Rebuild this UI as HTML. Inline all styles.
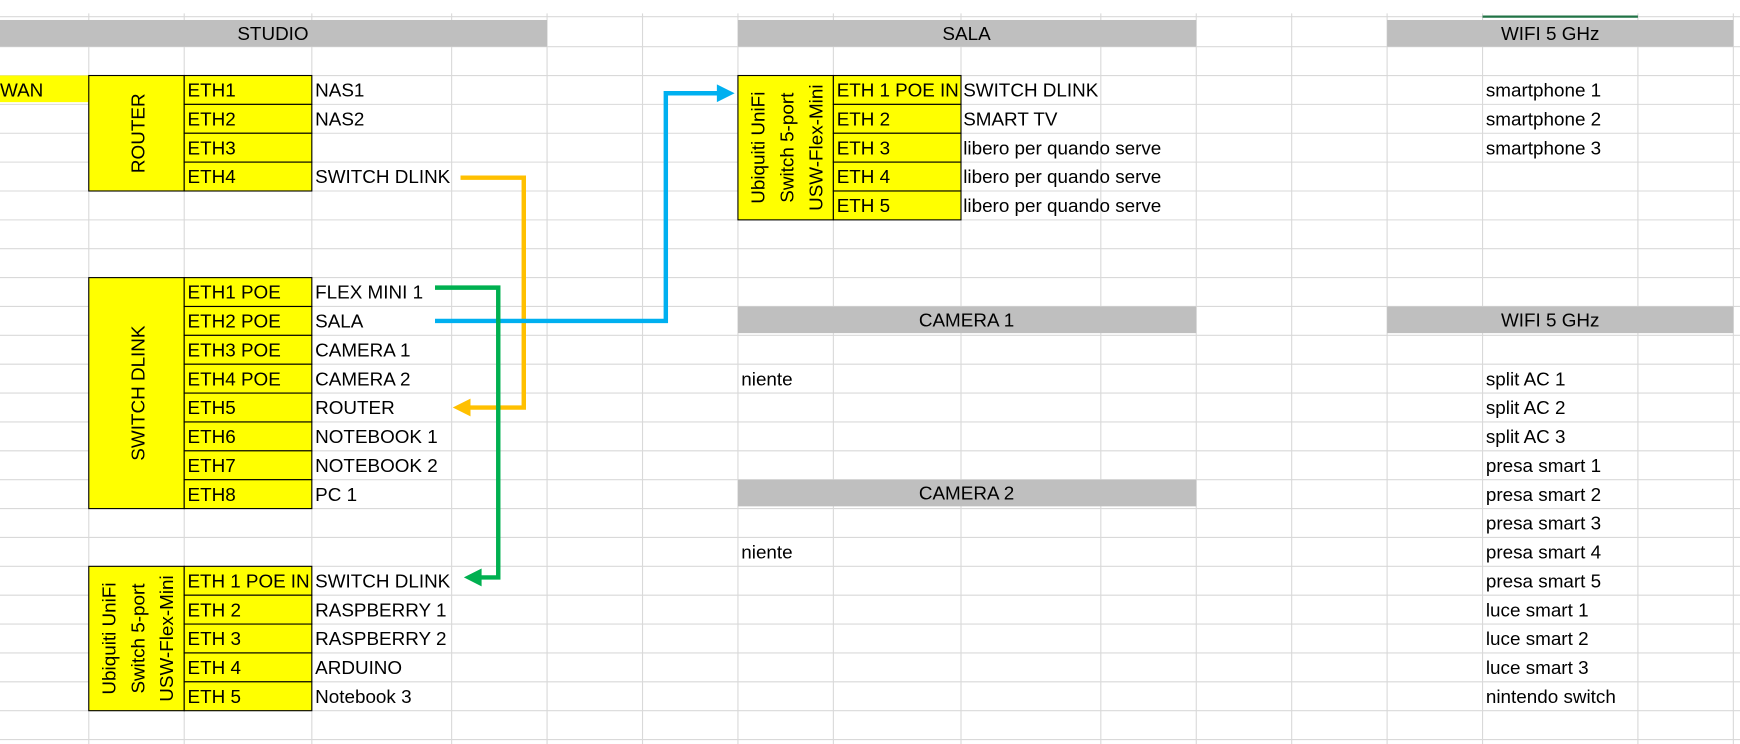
<!DOCTYPE html>
<html><head><meta charset="utf-8"><style>
html,body{margin:0;padding:0;background:#fff;overflow:hidden}
svg{display:block}
text{font-family:"Liberation Sans",sans-serif;font-size:17px;fill:#000}
</style></head><body>
<svg width="1740" height="744" viewBox="0 0 1568 670" preserveAspectRatio="none" xmlns="http://www.w3.org/2000/svg">
<rect width="1568" height="670" fill="#fff"/>
<g stroke="#d9d9d9" stroke-width="1">
<line x1="0" y1="15" x2="1568" y2="15"/>
<line x1="0" y1="42" x2="1568" y2="42"/><line x1="0" y1="68" x2="1568" y2="68"/><line x1="0" y1="94" x2="1568" y2="94"/><line x1="0" y1="120" x2="1568" y2="120"/><line x1="0" y1="146" x2="1568" y2="146"/><line x1="0" y1="172" x2="1568" y2="172"/><line x1="0" y1="198" x2="1568" y2="198"/><line x1="0" y1="224" x2="1568" y2="224"/><line x1="0" y1="250" x2="1568" y2="250"/><line x1="0" y1="276" x2="1568" y2="276"/><line x1="0" y1="302" x2="1568" y2="302"/><line x1="0" y1="328" x2="1568" y2="328"/><line x1="0" y1="354" x2="1568" y2="354"/><line x1="0" y1="380" x2="1568" y2="380"/><line x1="0" y1="406" x2="1568" y2="406"/><line x1="0" y1="432" x2="1568" y2="432"/><line x1="0" y1="458" x2="1568" y2="458"/><line x1="0" y1="484" x2="1568" y2="484"/><line x1="0" y1="510" x2="1568" y2="510"/><line x1="0" y1="536" x2="1568" y2="536"/><line x1="0" y1="562" x2="1568" y2="562"/><line x1="0" y1="588" x2="1568" y2="588"/><line x1="0" y1="614" x2="1568" y2="614"/><line x1="0" y1="640" x2="1568" y2="640"/><line x1="0" y1="666" x2="1568" y2="666"/>
<line x1="80" y1="12" x2="80" y2="670"/><line x1="166" y1="12" x2="166" y2="670"/><line x1="281" y1="12" x2="281" y2="670"/><line x1="407" y1="12" x2="407" y2="670"/><line x1="493" y1="12" x2="493" y2="670"/><line x1="579" y1="12" x2="579" y2="670"/><line x1="665" y1="12" x2="665" y2="670"/><line x1="751" y1="12" x2="751" y2="670"/><line x1="866" y1="12" x2="866" y2="670"/><line x1="992" y1="12" x2="992" y2="670"/><line x1="1078" y1="12" x2="1078" y2="670"/><line x1="1164" y1="12" x2="1164" y2="670"/><line x1="1250" y1="12" x2="1250" y2="670"/><line x1="1336" y1="12" x2="1336" y2="670"/><line x1="1476" y1="12" x2="1476" y2="670"/><line x1="1562" y1="12" x2="1562" y2="670"/>
</g>
<line x1="1336" y1="15" x2="1476" y2="15" stroke="#217346" stroke-width="2"/>
<g fill="#bfbfbf">
<rect x="0" y="18" width="493" height="24"/>
<rect x="665" y="18" width="413" height="24"/>
<rect x="1250" y="18" width="312" height="24"/>
<rect x="665" y="276" width="413" height="24"/>
<rect x="665" y="432" width="413" height="24"/>
<rect x="1250" y="276" width="312" height="24"/>
</g>
<text x="246" y="36" text-anchor="middle">STUDIO</text>
<text x="871" y="36" text-anchor="middle">SALA</text>
<text x="1397" y="36" text-anchor="middle">WIFI 5 GHz</text>
<text x="871" y="294" text-anchor="middle">CAMERA 1</text>
<text x="871" y="450" text-anchor="middle">CAMERA 2</text>
<text x="1397" y="294" text-anchor="middle">WIFI 5 GHz</text>
<rect x="0" y="68" width="80" height="24" fill="#ffff00"/>
<text x="0" y="87">WAN</text>
<g fill="#ffff00" stroke="#000" stroke-width="1">
<rect x="80" y="68" width="86" height="104"/>
<rect x="166" y="68" width="115" height="26"/><rect x="166" y="94" width="115" height="26"/><rect x="166" y="120" width="115" height="26"/><rect x="166" y="146" width="115" height="26"/>
<rect x="80" y="250" width="86" height="208"/>
<rect x="166" y="250" width="115" height="26"/><rect x="166" y="276" width="115" height="26"/><rect x="166" y="302" width="115" height="26"/><rect x="166" y="328" width="115" height="26"/><rect x="166" y="354" width="115" height="26"/><rect x="166" y="380" width="115" height="26"/><rect x="166" y="406" width="115" height="26"/><rect x="166" y="432" width="115" height="26"/>
<rect x="80" y="510" width="86" height="130"/>
<rect x="166" y="510" width="115" height="26"/><rect x="166" y="536" width="115" height="26"/><rect x="166" y="562" width="115" height="26"/><rect x="166" y="588" width="115" height="26"/><rect x="166" y="614" width="115" height="26"/>
<rect x="665" y="68" width="86" height="130"/>
<rect x="751" y="68" width="115" height="26"/><rect x="751" y="94" width="115" height="26"/><rect x="751" y="120" width="115" height="26"/><rect x="751" y="146" width="115" height="26"/><rect x="751" y="172" width="115" height="26"/>
</g>
<text transform="translate(130,120) rotate(-90)" text-anchor="middle">ROUTER</text>
<text transform="translate(130,354) rotate(-90)" text-anchor="middle">SWITCH DLINK</text>
<g text-anchor="middle">
<text transform="translate(104,575) rotate(-90)">Ubiquiti UniFi</text>
<text transform="translate(130,575) rotate(-90)">Switch 5-port</text>
<text transform="translate(156,575) rotate(-90)">USW-Flex-Mini</text>
<text transform="translate(689,133) rotate(-90)">Ubiquiti UniFi</text>
<text transform="translate(715,133) rotate(-90)">Switch 5-port</text>
<text transform="translate(741,133) rotate(-90)">USW-Flex-Mini</text>
</g>
<g>
<text x="169" y="87">ETH1</text><text x="169" y="113">ETH2</text><text x="169" y="139">ETH3</text><text x="169" y="165">ETH4</text>
<text x="284" y="87">NAS1</text><text x="284" y="113">NAS2</text><text x="284" y="165">SWITCH DLINK</text>
<text x="169" y="269">ETH1 POE</text><text x="169" y="295">ETH2 POE</text><text x="169" y="321">ETH3 POE</text><text x="169" y="347">ETH4 POE</text><text x="169" y="373">ETH5</text><text x="169" y="399">ETH6</text><text x="169" y="425">ETH7</text><text x="169" y="451">ETH8</text>
<text x="284" y="269">FLEX MINI 1</text><text x="284" y="295">SALA</text><text x="284" y="321">CAMERA 1</text><text x="284" y="347">CAMERA 2</text><text x="284" y="373">ROUTER</text><text x="284" y="399">NOTEBOOK 1</text><text x="284" y="425">NOTEBOOK 2</text><text x="284" y="451">PC 1</text>
<text x="169" y="529" textLength="110">ETH 1 POE IN</text><text x="169" y="555">ETH 2</text><text x="169" y="581">ETH 3</text><text x="169" y="607">ETH 4</text><text x="169" y="633">ETH 5</text>
<text x="284" y="529">SWITCH DLINK</text><text x="284" y="555">RASPBERRY 1</text><text x="284" y="581">RASPBERRY 2</text><text x="284" y="607">ARDUINO</text><text x="284" y="633">Notebook 3</text>
<text x="754" y="87" textLength="110">ETH 1 POE IN</text><text x="754" y="113">ETH 2</text><text x="754" y="139">ETH 3</text><text x="754" y="165">ETH 4</text><text x="754" y="191">ETH 5</text>
<text x="868" y="87">SWITCH DLINK</text><text x="868" y="113">SMART TV</text><text x="868" y="139">libero per quando serve</text><text x="868" y="165">libero per quando serve</text><text x="868" y="191">libero per quando serve</text>
<text x="668" y="347">niente</text><text x="668" y="503">niente</text>
<text x="1339" y="87">smartphone 1</text><text x="1339" y="113">smartphone 2</text><text x="1339" y="139">smartphone 3</text>
<text x="1339" y="347">split AC 1</text><text x="1339" y="373">split AC 2</text><text x="1339" y="399">split AC 3</text><text x="1339" y="425">presa smart 1</text><text x="1339" y="451">presa smart 2</text><text x="1339" y="477">presa smart 3</text><text x="1339" y="503">presa smart 4</text><text x="1339" y="529">presa smart 5</text><text x="1339" y="555">luce smart 1</text><text x="1339" y="581">luce smart 2</text><text x="1339" y="607">luce smart 3</text><text x="1339" y="633">nintendo switch</text>
</g>
<g fill="none" stroke-width="4" stroke-linejoin="miter">
<polyline points="415,160 472,160 472,367 422,367" stroke="#ffc000"/>
<polyline points="392,289 600,289 600,84 650,84" stroke="#00b0f0"/>
<polyline points="392,259 449,259 449,520 432,520" stroke="#00b050"/>
</g>
<polygon points="408,367 424,359 424,375" fill="#ffc000"/>
<polygon points="662,84 646,76 646,92" fill="#00b0f0"/>
<polygon points="418,520 434,512 434,528" fill="#00b050"/>
</svg>
</body></html>
